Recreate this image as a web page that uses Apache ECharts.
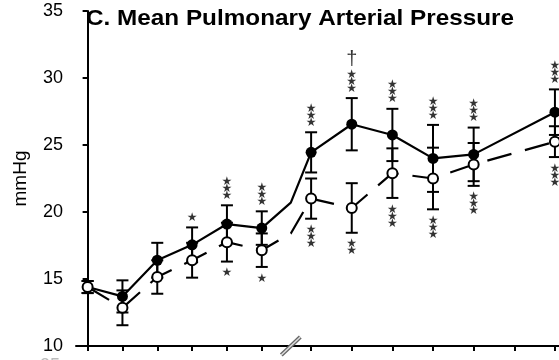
<!DOCTYPE html>
<html><head><meta charset="utf-8">
<script src="https://cdn.jsdelivr.net/npm/echarts@6/dist/echarts.min.js"></script>
<style>html,body{margin:0;padding:0;background:#fff}#c{width:559px;height:360px}</style>
</head><body><div id="c"></div>
<script>
// x positions (axis units); index 6 is the hidden point at the axis break
const xPos       = [0, 12, 24, 36, 48, 60, 70, 77, 91, 105, 119, 133, 161];
const breakIndex = 6;
const xTicks     = [0, 12, 24, 36, 48, 60, 77, 91, 105, 119, 133, 147, 161];
const yTicks     = [10, 15, 20, 25, 30, 35];

const filledMean = [14.4, 13.7, 16.4, 17.55, 19.1, 18.8, 20.7, 24.45, 26.55, 25.75, 24.0, 24.3, 27.45];
const filledSem  = [0.45, 1.2, 1.3, 1.3, 1.4, 1.25, 0, 1.5, 1.95, 1.95, 2.5, 2.0, 1.7];
const openMean   = [14.4, 12.85, 15.15, 16.4, 17.75, 17.15, 18.4, 21.0, 20.3, 22.9, 22.5, 23.55, 25.25];
const openSem    = [0.45, 1.3, 1.25, 1.3, 1.45, 1.25, 0, 1.5, 1.85, 1.85, 2.3, 1.6, 1.15];

const sigFilled  = ['', '', '', '*', '***', '***', '', '***', '†***', '***', '***', '***', '***'];
const sigOpen    = ['', '', '', '', '*', '*', '', '***', '**', '***', '***', '***', '***'];

const titleText = 'C. Mean Pulmonary Arterial Pressure';
const yName = 'mmHg';

const chart = echarts.init(document.getElementById('c'), null, {renderer: 'canvas'});
const FONT = '"Liberation Sans", Arial, sans-serif';

function errSeries(mean, sem, z) {
  const data = [];
  xPos.forEach((x, i) => { if (i !== breakIndex) data.push([x, mean[i] - sem[i], mean[i] + sem[i]]); });
  return {
    type: 'custom', z, silent: true,
    encode: {x: 0, y: [1, 2]},
    data,
    renderItem: (params, api) => {
      const x = api.value(0);
      const lo = api.coord([x, api.value(1)]);
      const hi = api.coord([x, api.value(2)]);
      const w = 6;
      const style = {stroke: '#000', lineWidth: 2};
      return {type: 'group', children: [
        {type: 'line', shape: {x1: lo[0], y1: lo[1], x2: hi[0], y2: hi[1]}, style},
        {type: 'line', shape: {x1: lo[0] - w, y1: lo[1], x2: lo[0] + w, y2: lo[1]}, style},
        {type: 'line', shape: {x1: hi[0] - w, y1: hi[1], x2: hi[0] + w, y2: hi[1]}, style}
      ]};
    }
  };
}

function lineData(mean) {
  return xPos.map((x, i) => i === breakIndex ? {value: [x, mean[i]], symbol: 'none', symbolSize: 0} : [x, mean[i]]);
}

function sigText(s) {
  const lines = [];
  if (s.indexOf('†') >= 0) lines.push('{d|†}');
  const n = (s.match(/\*/g) || []).length;
  for (let k = 0; k < n; k++) lines.push('{s|★}');
  return lines.join('\n');
}

function sigSeries(sig, mean, sem, above) {
  const data = [];
  xPos.forEach((x, i) => {
    if (sig[i]) data.push({value: [x, above ? mean[i] + sem[i] : mean[i] - sem[i]], sig: sig[i]});
  });
  return {
    type: 'scatter', z: 6, silent: true, symbolSize: 0, data,
    label: {
      show: true, position: above ? 'top' : 'bottom', distance: above ? 6 : 8,
      formatter: p => sigText(p.data.sig),
      rich: {
        s: {fontSize: 12, lineHeight: 7, color: '#000', fontFamily: '"DejaVu Sans", sans-serif'},
        d: {fontSize: 20, lineHeight: 24, color: '#000', fontFamily: FONT}
      }
    }
  };
}

chart.setOption({
  animation: false,
  backgroundColor: '#fff',
  grid: {left: 76, right: 0, top: 11, bottom: 14, containLabel: false},
  xAxis: {
    type: 'value', min: -4, max: 162.4,
    axisLine: {show: true, onZero: false, lineStyle: {color: '#000', width: 2}},
    axisTick: {show: true, customValues: xTicks, length: 5, lineStyle: {color: '#000', width: 2}},
    axisLabel: {show: false},
    splitLine: {show: false}
  },
  yAxis: {
    type: 'value', min: yTicks[0], max: yTicks[yTicks.length - 1], interval: 5,
    name: yName, nameLocation: 'middle', nameGap: 46, nameRotate: 90,
    nameTextStyle: {fontSize: 19, color: '#000', fontFamily: FONT},
    axisLine: {show: true, lineStyle: {color: '#000', width: 2}},
    axisTick: {show: true, length: 5, lineStyle: {color: '#000', width: 2}},
    axisLabel: {fontSize: 18, color: '#000', fontFamily: FONT, margin: 13},
    splitLine: {show: false}
  },
  series: [
    errSeries(filledMean, filledSem, 1),
    errSeries(openMean, openSem, 1),
    {
      type: 'line', z: 3, data: lineData(filledMean),
      symbol: 'circle', symbolSize: 11,
      itemStyle: {color: '#000'},
      lineStyle: {color: '#000', width: 2.2}
    },
    {
      type: 'line', z: 4, data: lineData(openMean),
      symbol: 'circle', symbolSize: 10,
      itemStyle: {color: '#fff', borderColor: '#000', borderWidth: 2},
      lineStyle: {color: '#000', width: 2.2, type: [25, 14]}
    },
    sigSeries(sigFilled, filledMean, filledSem, true),
    sigSeries(sigOpen, openMean, openSem, false)
  ]
});

const bp = chart.convertToPixel({xAxisIndex: 0, yAxisIndex: 0}, [xPos[breakIndex], yTicks[0]]);
chart.setOption({
  graphic: [
    {type: 'text', x: 86, y: 19.5, scaleX: 1.13, z: 10,
     style: {text: titleText, fontSize: 21.5, fontWeight: 'bold', fontFamily: FONT, fill: '#000', verticalAlign: 'middle'}},
    {type: 'line', z: 10, shape: {x1: bp[0] - 9.5, y1: bp[1] + 9, x2: bp[0] + 9.5, y2: bp[1] - 9}, style: {stroke: '#666', lineWidth: 4}},
    {type: 'line', z: 11, shape: {x1: bp[0] - 9.5, y1: bp[1] + 9, x2: bp[0] + 9.5, y2: bp[1] - 9}, style: {stroke: '#ddd', lineWidth: 1.5}},
    {type: 'text', x: 60, y: 357, z: 10,
     style: {text: '35', fontSize: 18, fontFamily: FONT, fill: '#bbb', align: 'right', verticalAlign: 'top'}}
  ]
});
</script></body></html>
